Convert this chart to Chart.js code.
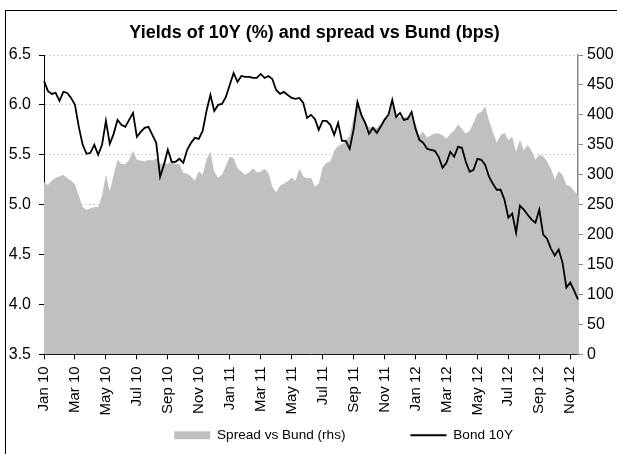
<!DOCTYPE html>
<html>
<head>
<meta charset="utf-8">
<script src="https://cdn.jsdelivr.net/npm/chart.js@4.4.1/dist/chart.umd.min.js"></script>
<style>
html, body { margin: 0; padding: 0; overflow: hidden; background: #fff; width: 617px; height: 454px; }
#frame { position: absolute; left: 5px; top: 10px; width: 720px; height: 520px; border-left: 1px solid #000; border-top: 1px solid #000; }
#c { position: absolute; left: 0; top: 0; }
</style>
</head>
<body>
<div id="frame"><canvas id="c" width="617" height="443"></canvas></div>
<script>
// Month tick labels (every 2 months)
const tickLabels = ['Jan 10','Mar 10','May 10','Jul 10','Sep 10','Nov 10',
                    'Jan 11','Mar 11','May 11','Jul 11','Sep 11','Nov 11',
                    'Jan 12','Mar 12','May 12','Jul 12','Sep 12','Nov 12'];

// Bond 10Y yield (%), roughly weekly from Jan 2010 to mid-Dec 2012
const yields = [
  6.24, 6.14, 6.11, 6.12, 6.04, 6.13, 6.12, 6.07, 6.00, 5.78,
  5.60, 5.51, 5.52, 5.60, 5.50, 5.60, 5.84, 5.61, 5.71, 5.85,
  5.80, 5.78, 5.85, 5.92, 5.68, 5.73, 5.77, 5.78, 5.70, 5.62,
  5.28, 5.40, 5.55, 5.43, 5.43, 5.46, 5.42, 5.55, 5.62, 5.67,
  5.66, 5.74, 5.94, 6.10, 5.94, 6.00, 6.01, 6.08, 6.20, 6.32,
  6.23, 6.29, 6.28, 6.28, 6.27, 6.27, 6.31, 6.27, 6.29, 6.26,
  6.15, 6.11, 6.13, 6.10, 6.07, 6.06, 6.07, 6.02, 5.87, 5.90,
  5.86, 5.75, 5.84, 5.84, 5.80, 5.70, 5.82, 5.64, 5.64, 5.56,
  5.75, 6.03, 5.90, 5.82, 5.71, 5.77, 5.72, 5.78, 5.85, 5.90,
  6.05, 5.88, 5.92, 5.85, 5.86, 5.93, 5.76, 5.65, 5.62, 5.56,
  5.55, 5.54, 5.48, 5.37, 5.42, 5.53, 5.48, 5.58, 5.57, 5.43,
  5.33, 5.35, 5.46, 5.45, 5.40, 5.28, 5.21, 5.15, 5.15, 5.05,
  4.87, 4.91, 4.72, 4.99, 4.95, 4.90, 4.85, 4.82, 4.95, 4.70,
  4.66, 4.56, 4.49, 4.55, 4.42, 4.17, 4.22, 4.14, 4.05
];

// Spread vs Bund (bps), same dates
const spread = [
  288, 283, 290, 295, 297, 300, 294, 290, 284, 265,
  246, 241, 244, 246, 246, 265, 300, 272, 300, 325,
  318, 318, 325, 340, 325, 324, 322, 325, 324, 327,
  318, 320, 318, 324, 318, 318, 303, 302, 297, 290,
  306, 300, 326, 338, 305, 295, 300, 315, 330, 328,
  311, 305, 300, 304, 311, 304, 305, 310, 303, 280,
  271, 282, 285, 289, 295, 290, 310, 297, 294, 295,
  280, 285, 312, 320, 322, 340, 348, 351, 356, 366,
  395, 425, 405, 390, 379, 380, 378, 386, 394, 395,
  420, 400, 396, 395, 398, 399, 386, 366, 372, 362,
  366, 369, 369, 366, 360, 368, 374, 384, 377, 369,
  373, 387, 402, 405, 414, 391, 371, 354, 366, 370,
  358, 363, 338, 358, 341, 350, 340, 325, 333, 331,
  322, 310, 292, 306, 300, 283, 281, 273, 266
];

const monthNames = ['Jan','Feb','Mar','Apr','May','Jun','Jul','Aug','Sep','Oct','Nov','Dec'];
// one category per quarter-month
const categories = yields.map((_, i) => {
  const m = Math.floor(i / 4);
  return monthNames[m % 12] + ' ' + (10 + Math.floor(m / 12)) + ' w' + (i % 4 + 1);
});

const FONT = "'Liberation Sans', Arial, sans-serif";
const GREY = '#c0c0c0';

new Chart(document.getElementById('c'), {
  type: 'line',
  data: {
    labels: categories,
    datasets: [
      {
        label: 'Spread vs Bund (rhs)',
        data: spread,
        yAxisID: 'y1',
        backgroundColor: GREY,
        borderColor: GREY,
        borderWidth: 0,
        fill: 'origin',
        pointRadius: 0,
        tension: 0,
        order: 1
      },
      {
        label: 'Bond 10Y',
        data: yields,
        yAxisID: 'y',
        borderColor: '#000',
        backgroundColor: '#000',
        borderWidth: 1.8,
        fill: false,
        pointRadius: 0,
        tension: 0,
        order: 0
      }
    ]
  },
  options: {
    responsive: false,
    animation: false,
    devicePixelRatio: 1,
    layout: { padding: { left: 0, right: 0, top: 0, bottom: 2 } },
    plugins: {
      title: {
        display: true,
        text: 'Yields of 10Y (%) and spread vs Bund (bps)',
        color: '#000',
        font: { family: FONT, size: 18, weight: 'bold' },
        padding: { top: 11, bottom: 11.4 }
      },
      legend: {
        position: 'bottom',
        fullSize: false,
        align: 'end',
        labels: {
          color: '#000',
          font: { family: FONT, size: 13.6 },
          usePointStyle: true,
          pointStyleWidth: 36,
          boxHeight: 8,
          padding: 65,
          sort: (a, b) => a.datasetIndex - b.datasetIndex,
          generateLabels: (chart) => {
            const items = Chart.defaults.plugins.legend.labels.generateLabels(chart);
            items.forEach(it => {
              if (it.datasetIndex === 0) {
                it.pointStyle = 'rect';
                it.fillStyle = GREY;
                it.strokeStyle = GREY;
                it.lineWidth = 0;
              } else {
                it.pointStyle = 'line';
                it.strokeStyle = '#000';
                it.fillStyle = '#000';
                it.lineWidth = 2;
              }
            });
            return items;
          }
        }
      },
      tooltip: { enabled: false }
    },
    scales: {
      x: {
        type: 'category',
        offset: false,
        afterFit: (s) => { s.height = 9; },
        grid: { display: true, drawOnChartArea: false, drawTicks: true, tickLength: 5, tickColor: '#000', color: '#000' },
        border: { display: true, color: '#000', width: 1 },
        ticks: {
          autoSkip: false,
          minRotation: 90,
          maxRotation: 90,
          mirror: true,
          padding: -12,
          labelOffset: 18,
          color: '#000',
          font: { family: FONT, size: 15 },
          callback: (v, i) => (i % 8 === 0 ? tickLabels[i / 8] : null)
        }
      },
      y: {
        position: 'left',
        min: 3.5,
        max: 6.5,
        afterFit: (s) => { s.width = 38; },
        ticks: {
          stepSize: 0.5,
          padding: 8,
          color: '#000',
          font: { family: FONT, size: 16 },
          callback: (v) => Number(v).toFixed(1)
        },
        grid: { color: '#cfcfcf', lineWidth: 1, tickColor: '#000', tickLength: 5, tickBorderDash: [] },
        border: { display: true, color: '#000', width: 1, dash: [2, 2] }
      },
      y1: {
        position: 'right',
        min: 0,
        max: 500,
        afterFit: (s) => { s.width = 45; },
        ticks: {
          stepSize: 50,
          padding: 4,
          color: '#000',
          font: { family: FONT, size: 16 }
        },
        grid: { drawOnChartArea: false, tickColor: '#888', tickLength: 5 },
        border: { display: true, color: '#888', width: 1.5 }
      }
    }
  }
});
</script>
</body>
</html>
